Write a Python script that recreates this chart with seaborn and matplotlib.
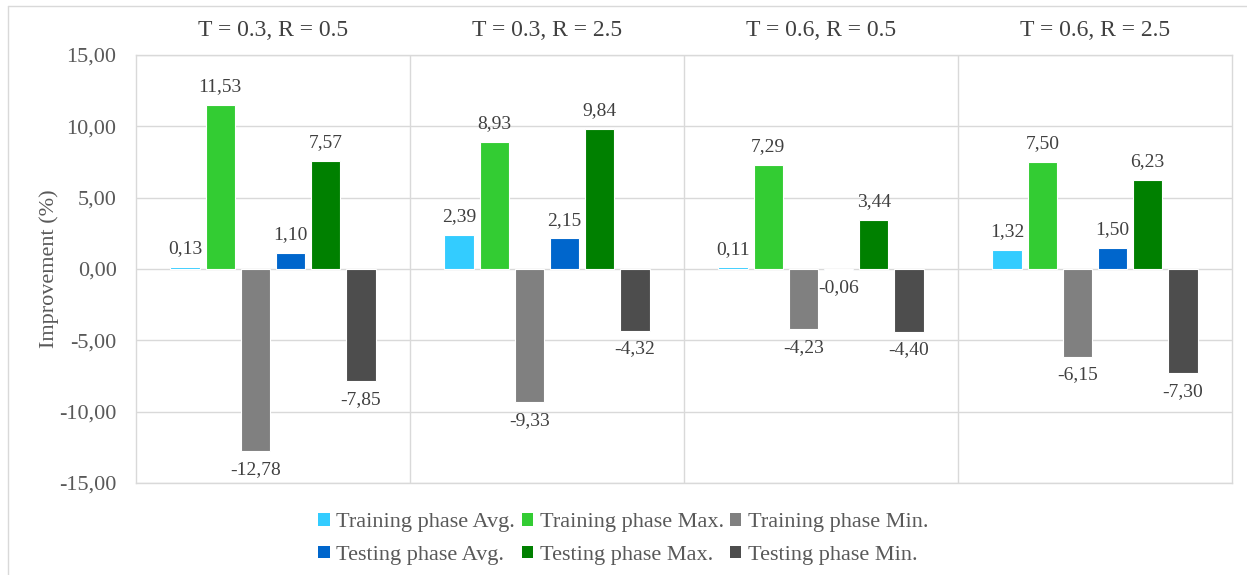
import matplotlib
matplotlib.use("Agg")
import matplotlib.pyplot as plt
from matplotlib.lines import Line2D
from matplotlib.patches import Patch
import seaborn as sns
import pandas as pd

# Experimental settings (one group per setting)
settings = ["T = 0.3, R = 0.5", "T = 0.3, R = 2.5", "T = 0.6, R = 0.5", "T = 0.6, R = 2.5"]

# Series names
series = [
    "Training phase Avg.", "Training phase Max.", "Training phase Min.",
    "Testing phase Avg.", "Testing phase Max.", "Testing phase Min.",
]

# Improvement (%) for each series, ordered by setting
train_avg = [0.13, 2.39, 0.11, 1.32]
train_max = [11.53, 8.93, 7.29, 7.50]
train_min = [-12.78, -9.33, -4.23, -6.15]
test_avg = [1.10, 2.15, -0.06, 1.50]
test_max = [7.57, 9.84, 3.44, 6.23]
test_min = [-7.85, -4.32, -4.40, -7.30]

colors = ["#33CCFF", "#33CC33", "#808080", "#0066CC", "#008000", "#4D4D4D"]

yticks = [-15, -10, -5, 0, 5, 10, 15]

values = [train_avg, train_max, train_min, test_avg, test_max, test_min]
rows = []
for name, vals in zip(series, values):
    for s, v in zip(settings, vals):
        rows.append({"setting": s, "series": name, "value": v})
df = pd.DataFrame(rows)

sns.set_theme(style="white")
plt.rcParams["font.family"] = ["Liberation Serif", "DejaVu Serif"]
text_color = "#595959"
grid_color = "#D9D9D9"

fig = plt.figure(figsize=(12.47, 5.75), dpi=100)
ax = fig.add_axes([136 / 1247, 1 - 483 / 575, (1232 - 136) / 1247, (483 - 55) / 575])

sns.barplot(
    data=df, x="setting", y="value", hue="series",
    order=settings, hue_order=series, palette=colors, saturation=1,
    width=0.77, gap=0.17, edgecolor="white", linewidth=0.8,
    errorbar=None, legend=False, ax=ax, zorder=3,
)

# Value labels above positive bars and below negative bars
for container in ax.containers:
    for bar in container:
        h = bar.get_height()
        xc = bar.get_x() + bar.get_width() / 2
        label = f"{h:.2f}".replace(".", ",")
        if h >= 0:
            ax.annotate(label, (xc, h), xytext=(0, 7), textcoords="offset points",
                        ha="center", va="bottom", fontsize=14, color="#404040")
        else:
            ax.annotate(label, (xc, h), xytext=(0, -7), textcoords="offset points",
                        ha="center", va="top", fontsize=14, color="#404040")

ax.set_ylim(-15, 15)
ax.set_xlim(-0.5, len(settings) - 0.5)
ax.set_yticks(yticks)
ax.set_yticklabels([f"{t:.2f}".replace(".", ",") for t in yticks], fontsize=16, color=text_color)
ax.yaxis.grid(True, color=grid_color, linewidth=1.0, zorder=0)
ax.set_axisbelow(True)
for xsep in [0.5, 1.5, 2.5]:
    ax.axvline(xsep, color=grid_color, linewidth=1.0, zorder=1)

ax.xaxis.set_ticks_position("top")
ax.set_xticks(range(len(settings)))
ax.set_xticklabels(settings, fontsize=17, color="#404040")
ax.tick_params(axis="x", length=0, pad=10)
ax.tick_params(axis="y", length=0, pad=14)
ax.set_xlabel("")
ax.set_ylabel("Improvement (%)", fontsize=16, color=text_color, labelpad=0)

for sp in ax.spines.values():
    sp.set_color(grid_color)
    sp.set_linewidth(1.0)

# Legend: two rows of three, filled column by column
order = [0, 3, 1, 4, 2, 5]
handles = [Patch(facecolor=colors[i], edgecolor="none") for i in order]
labels = [series[i] for i in order]
fig.legend(handles, labels, loc="center", bbox_to_anchor=(0.5, 1 - 539 / 575), ncol=3,
           frameon=False, fontsize=16, labelcolor=text_color,
           handlelength=0.5, handleheight=0.5, handletextpad=0.3,
           columnspacing=0.3, labelspacing=0.6)

# Chart frame (top and left edges)
fig.add_artist(Line2D([8 / 1247, 8 / 1247], [0, 1 - 6 / 575], transform=fig.transFigure,
                      color=grid_color, linewidth=1.0))
fig.add_artist(Line2D([8 / 1247, 1], [1 - 6 / 575, 1 - 6 / 575], transform=fig.transFigure,
                      color=grid_color, linewidth=1.0))

fig.savefig("out.png", dpi=100, facecolor="white")
